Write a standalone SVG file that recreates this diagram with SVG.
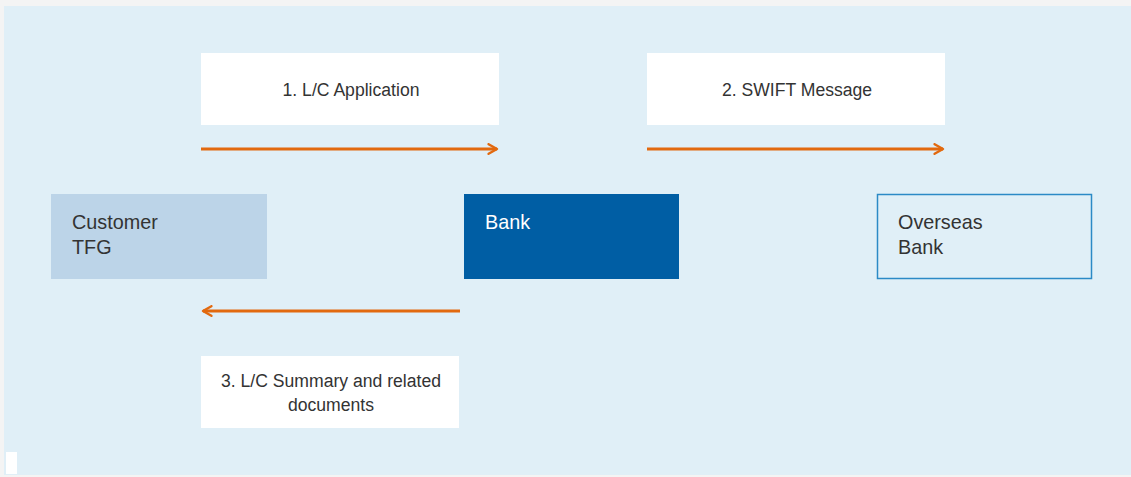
<svg xmlns="http://www.w3.org/2000/svg" width="1131" height="477" viewBox="0 0 1131 477">
<style>
.lbl{font-family:"Liberation Sans",Arial,sans-serif;font-size:17.6px;fill:#333;}
.nt{font-family:"Liberation Sans",Arial,sans-serif;font-size:19.8px;fill:#333;}
.wb{fill:#fff;}
.conn{stroke:#e2690f;stroke-width:3;fill:none;}
</style>
<defs>
<marker id="ah" viewBox="0 0 10 10" refX="8" refY="5" markerWidth="4" markerHeight="4" orient="auto" markerUnits="strokeWidth">
<path d="M1,1 L8,5 L1,9" fill="none" stroke="#e2690f" stroke-width="2" stroke-linecap="round" stroke-linejoin="round"/>
</marker>
</defs>
<rect x="0" y="0" width="1131" height="477" fill="#f4f4f4"/>
<rect x="4" y="6" width="1127" height="469" fill="#e0eff7"/>
<rect x="6" y="452" width="11" height="22" fill="#fff"/>
<g id="label1"><rect class="wb" x="201" y="53" width="298" height="72"/><text class="lbl" x="351" y="96" text-anchor="middle">1. L/C Application</text></g>
<g id="label2"><rect class="wb" x="647" y="53" width="298" height="72"/><text class="lbl" x="797" y="96" text-anchor="middle">2. SWIFT Message</text></g>
<g id="label3"><rect class="wb" x="201" y="356" width="258" height="72"/><text class="lbl" x="331" y="387" text-anchor="middle">3. L/C Summary and related</text><text class="lbl" x="331" y="411" text-anchor="middle">documents</text></g>
<g id="customer"><rect x="51" y="194" width="216" height="85" fill="#bcd4e8"/><text class="nt" x="72" y="229">Customer</text><text class="nt" x="72" y="254">TFG</text></g>
<g id="bank"><rect x="464" y="194" width="215" height="85" fill="#005ea4"/><text class="nt" x="485" y="229" style="fill:#fff">Bank</text></g>
<g id="overseas"><rect x="877.5" y="194.5" width="214" height="84" fill="#e0eff7" stroke="#2b8ac6" stroke-width="1.5"/><text class="nt" x="898" y="229">Overseas</text><text class="nt" x="898" y="254">Bank</text></g>
<g id="connectors">
<line class="conn" x1="201" y1="149" x2="497" y2="149" marker-end="url(#ah)"/>
<line class="conn" x1="647" y1="149" x2="943" y2="149" marker-end="url(#ah)"/>
<line class="conn" x1="460" y1="311" x2="203" y2="311" marker-end="url(#ah)"/>
</g>
</svg>
